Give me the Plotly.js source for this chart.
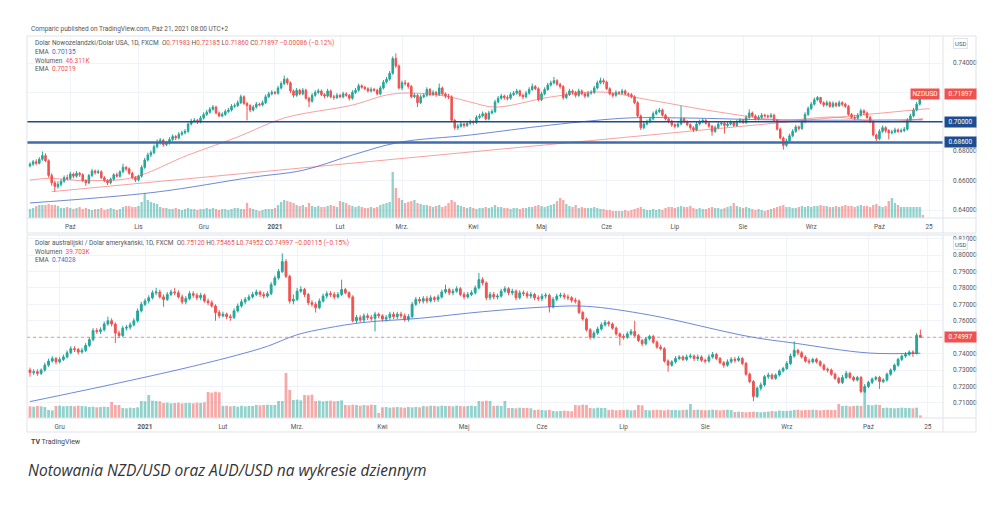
<!DOCTYPE html>
<html><head><meta charset="utf-8">
<script src="https://cdn.plot.ly/plotly-3.0.1.min.js"></script>
<style>html,body{margin:0;padding:0;background:#fff;}#chart{width:1005px;height:506px;}</style>
</head><body><div id="chart"></div>
<script>
// ---------------- DATA (prices in 1e-4 USD, volume in thousands) ----------------
const nzdStart = '2020-09-14';
const nzdTickDates = ['2020-10-01','2020-11-02','2020-12-01','2021-01-01','2021-02-01','2021-03-01','2021-04-01','2021-05-03','2021-06-01','2021-07-01','2021-08-02','2021-09-01','2021-10-01','2021-10-25'];
const nzdTickText = ['Paź','Lis','Gru','2021','Lut','Mrz.','Kwi','Maj','Cze','Lip','Sie','Wrz','Paź','25'];
const nzdOpen = [
6700,6712,6728,6718,6745,6770,6735,6635,6585,6560,
6575,6595,6620,6615,6645,6630,6650,6640,6600,6585,
6635,6665,6655,6660,6620,6600,6585,6610,6640,6630,
6660,6690,6680,6650,6620,6605,6630,6690,6740,6775,
6790,6830,6860,6875,6845,6855,6880,6900,6890,6915,
6925,6935,6985,7005,7010,7000,7025,7050,7065,7085,
7100,7060,7040,7050,7070,7080,7105,7110,7130,7170,
7125,7110,7080,7100,7120,7115,7130,7170,7190,7200,
7195,7230,7260,7290,7265,7210,7180,7215,7190,7215,
7160,7140,7180,7200,7210,7185,7175,7210,7170,7165,
7180,7170,7190,7180,7160,7200,7215,7245,7235,7225,
7210,7220,7215,7190,7230,7270,7290,7330,7430,7380,
7230,7265,7260,7240,7170,7180,7130,7170,7180,7220,
7185,7200,7185,7230,7190,7175,7170,7010,6960,6970,
6985,6975,6990,7000,6995,7030,7040,7055,7020,7060,
7070,7135,7160,7175,7165,7160,7185,7195,7210,7180,
7170,7195,7220,7240,7225,7150,7190,7220,7250,7265,
7280,7255,7240,7165,7185,7210,7200,7180,7210,7190,
7175,7195,7200,7230,7265,7280,7270,7225,7190,7180,
7200,7195,7210,7190,7185,7170,7130,7040,6960,6985,
7000,7020,7055,7070,7080,7045,7020,7005,6980,6970,
6985,7020,7000,6980,6960,6945,6985,7000,7010,6990,
6970,6935,6960,6985,6990,6975,6985,6995,6975,7000,
7010,6995,7030,7060,7040,7020,7030,7045,7040,7035,
7045,7010,6950,6890,6840,6870,6905,6935,6965,6955,
7000,7050,7090,7120,7150,7165,7130,7115,7130,7105,
7125,7110,7130,7120,7105,7050,7030,7025,7045,7075,
7060,7030,7000,6910,6885,6935,6960,6940,6925,6930,
6945,6935,6940,6950,7010,7040,7080,7120,7198.3];
const nzdHigh = [
6725,6740,6745,6760,6798,6785,6745,6650,6600,6595,
6610,6635,6640,6660,6655,6665,6660,6650,6610,6645,
6680,6675,6675,6670,6630,6610,6620,6650,6655,6670,
6715,6700,6690,6660,6630,6640,6705,6755,6790,6805,
6845,6880,6890,6885,6870,6895,6915,6910,6930,6940,
6950,6995,7020,7025,7020,7040,7065,7080,7100,7115,
7110,7070,7065,7085,7095,7120,7125,7145,7185,7180,
7135,7120,7115,7135,7130,7145,7185,7205,7215,7210,
7245,7275,7315,7300,7275,7220,7230,7225,7230,7225,
7170,7195,7215,7225,7220,7195,7225,7220,7185,7195,
7190,7205,7200,7190,7215,7230,7260,7255,7245,7235,
7235,7230,7225,7245,7285,7305,7345,7445,7465,7390,
7280,7285,7270,7250,7195,7190,7185,7195,7235,7230,
7215,7210,7260,7240,7200,7190,7180,7020,6985,7000,
6995,7005,7015,7010,7045,7055,7070,7065,7075,7085,
7150,7175,7190,7185,7180,7200,7210,7225,7220,7190,
7210,7235,7260,7250,7235,7205,7235,7265,7280,7305,
7290,7265,7250,7200,7225,7220,7210,7225,7220,7200,
7210,7215,7245,7280,7300,7295,7280,7235,7200,7215,
7210,7225,7220,7200,7195,7180,7140,7050,7000,7015,
7035,7070,7085,7095,7090,7055,7030,7015,6990,7000,
7110,7030,7010,6990,6970,7000,7015,7025,7020,7000,
6980,6975,7000,7005,7000,7000,7010,7005,7015,7025,
7020,7045,7085,7070,7050,7045,7060,7055,7050,7060,
7055,7020,6960,6900,6885,6920,6950,6980,6975,7015,
7065,7105,7135,7165,7175,7170,7140,7145,7140,7140,
7135,7145,7140,7130,7115,7060,7045,7060,7090,7085,
7070,7040,7010,6920,6950,6975,6970,6950,6945,6960,
6955,6955,6965,7025,7055,7095,7135,7210,7218.5];
const nzdLow = [
6690,6700,6705,6710,6735,6725,6620,6565,6525,6545,
6560,6585,6600,6605,6615,6620,6625,6590,6565,6575,
6625,6640,6645,6610,6590,6570,6575,6600,6620,6620,
6650,6665,6640,6610,6590,6595,6620,6680,6730,6760,
6780,6820,6845,6830,6835,6845,6870,6875,6880,6905,
6915,6925,6975,6995,6985,6990,7015,7040,7055,7075,
7050,7030,7030,7040,7060,7070,7095,7100,7120,7115,
7010,7065,7070,7090,7105,7105,7120,7160,7180,7185,
7185,7220,7250,7250,7195,7165,7170,7180,7180,7150,
7100,7130,7170,7190,7175,7160,7165,7160,7150,7155,
7160,7160,7170,7145,7150,7190,7205,7225,7215,7200,
7200,7205,7180,7180,7220,7260,7280,7320,7365,7220,
7215,7245,7225,7160,7160,7100,7120,7160,7170,7175,
7175,7170,7175,7180,7160,7155,7000,6945,6945,6960,
6960,6965,6980,6980,6985,7020,7030,7010,7010,7050,
7060,7125,7150,7150,7145,7150,7175,7185,7170,7155,
7160,7185,7210,7215,7140,7140,7180,7210,7240,7255,
7245,7225,7150,7155,7175,7185,7165,7170,7180,7160,
7165,7185,7190,7220,7255,7255,7215,7180,7165,7170,
7185,7185,7180,7170,7160,7120,7030,6945,6950,6975,
6990,7010,7045,7060,7035,7010,6990,6965,6955,6960,
6975,6990,6970,6945,6930,6935,6975,6990,6980,6960,
6905,6925,6950,6975,6920,6965,6975,6965,6965,6990,
6985,6985,7020,7030,7010,7010,7020,7030,7025,7025,
7000,6940,6880,6810,6830,6860,6895,6925,6940,6945,
6990,7040,7080,7110,7140,7120,7100,7105,7095,7095,
7100,7100,7105,7095,7040,7020,7010,7015,7035,7045,
7020,6990,6900,6870,6875,6925,6925,6880,6915,6920,
6925,6925,6930,6940,7000,7030,7070,7110,7186];
const nzdClose = [
6712,6728,6718,6745,6770,6735,6635,6585,6560,6575,
6595,6620,6615,6645,6630,6650,6640,6600,6585,6635,
6665,6655,6660,6620,6600,6585,6610,6640,6630,6660,
6690,6680,6650,6620,6605,6630,6690,6740,6775,6790,
6830,6860,6875,6845,6855,6880,6900,6890,6915,6925,
6935,6985,7005,7010,7000,7025,7050,7065,7085,7100,
7060,7040,7050,7070,7080,7105,7110,7130,7170,7125,
7110,7080,7100,7120,7115,7130,7170,7190,7200,7195,
7230,7260,7290,7265,7210,7180,7215,7190,7215,7160,
7140,7180,7200,7210,7185,7175,7210,7170,7165,7180,
7170,7190,7180,7160,7200,7215,7245,7235,7225,7210,
7220,7215,7190,7230,7270,7290,7330,7430,7380,7230,
7265,7260,7240,7170,7180,7130,7170,7180,7220,7185,
7200,7185,7230,7190,7175,7170,7010,6960,6970,6985,
6975,6990,7000,6995,7030,7040,7055,7020,7060,7070,
7135,7160,7175,7165,7160,7185,7195,7210,7180,7170,
7195,7220,7240,7225,7150,7190,7220,7250,7265,7280,
7255,7240,7165,7185,7210,7200,7180,7210,7190,7175,
7195,7200,7230,7265,7280,7270,7225,7190,7180,7200,
7195,7210,7190,7185,7170,7130,7040,6960,6985,7000,
7020,7055,7070,7080,7045,7020,7005,6980,6970,6985,
7020,7000,6980,6960,6945,6985,7000,7010,6990,6970,
6935,6960,6985,6990,6975,6985,6995,6975,7000,7010,
6995,7030,7060,7040,7020,7030,7045,7040,7035,7045,
7010,6950,6890,6840,6870,6905,6935,6965,6955,7000,
7050,7090,7120,7150,7165,7130,7115,7130,7105,7125,
7110,7130,7120,7105,7050,7030,7025,7045,7075,7060,
7030,7000,6910,6885,6935,6960,6940,6925,6930,6945,
6935,6940,6950,7010,7040,7080,7120,7198.3,7189.7];
const nzdVolume = [
135,150,180,195,195,195,210,195,195,180,
150,150,165,150,135,150,165,135,150,135,
120,135,135,150,120,135,150,135,120,135,
165,180,180,165,165,180,240,375,270,240,
225,210,165,150,150,135,135,150,135,120,
135,150,135,135,120,135,135,150,135,150,
135,120,135,135,120,135,150,150,135,135,
225,150,135,120,105,120,135,135,135,150,
195,240,270,255,240,225,195,180,195,165,
225,180,165,180,165,165,180,195,180,165,
255,240,225,195,180,165,180,165,150,150,
165,150,165,195,210,225,240,690,450,300,
270,225,240,255,270,225,210,195,195,180,
165,180,195,165,180,225,270,240,195,180,
165,150,165,150,135,150,150,165,150,165,
195,165,165,150,150,135,150,150,135,150,
150,165,165,180,195,180,165,180,195,210,
255,300,270,210,180,165,195,150,165,150,
150,150,165,150,135,135,120,120,105,105,
105,105,120,105,120,135,150,165,135,120,
120,135,120,135,120,150,165,165,150,165,
180,165,165,180,150,135,150,135,135,150,
165,150,150,135,150,165,180,225,180,165,
150,165,150,135,120,135,120,105,120,135,
150,165,180,195,165,165,150,150,165,180,
165,180,165,180,180,195,180,180,165,165,
180,165,180,195,180,180,165,180,195,180,
180,165,195,210,180,165,180,255,300,225,
195,165,165,165,165,165,165,165,46.311];
// EMA lines read at sample bars (bar number, price)
const nzdEmaSlowBar = [0,40,72,88,104,119,142,168,193,211,243,288];
const nzdEmaSlow    = [0.6448,0.6520,0.6624,0.6670,0.6774,0.6860,0.6910,0.6978,0.7026,0.7026,0.7012,0.70135];
const nzdEmaFastBar = [0,6,18,33,51,67,82,104,115,122,134,142,150,168,184,200,222,243,259,275,288];
const nzdEmaFast    = [0.6604,0.6615,0.6600,0.6620,0.6774,0.6897,0.7026,0.7114,0.7182,0.7196,0.7175,0.7135,0.7100,0.7169,0.7203,0.7148,0.7067,0.7012,0.7033,0.6999,0.70219];
const nzdTrendBar = [7,290];
const nzdTrend    = [0.6525,0.7090];
const nzdLevels   = [0.70000,0.68600];
const nzdSymbol   = 'NZDUSD';

const audStart = '2020-11-19';
const audTickDates = ['2020-12-01','2021-01-01','2021-02-01','2021-03-01','2021-04-01','2021-05-03','2021-06-01','2021-07-01','2021-08-02','2021-09-01','2021-10-01','2021-10-25'];
const audTickText = ['Gru','2021','Lut','Mrz.','Kwi','Maj','Cze','Lip','Sie','Wrz','Paź','25'];
const audOpen = [
7300,7285,7290,7280,7300,7330,7355,7370,7350,7365,
7380,7405,7430,7425,7410,7420,7450,7485,7540,7535,
7545,7580,7600,7580,7525,7510,7555,7560,7575,7600,
7660,7700,7720,7740,7770,7775,7745,7730,7760,7775,
7770,7745,7715,7735,7765,7755,7740,7755,7720,7710,
7690,7650,7630,7640,7625,7620,7660,7690,7715,7730,
7745,7760,7775,7760,7750,7765,7820,7860,7900,7960,
7870,7720,7730,7780,7790,7760,7710,7700,7680,7720,
7750,7765,7760,7745,7760,7790,7770,7745,7600,7620,
7605,7630,7620,7615,7640,7630,7610,7620,7640,7625,
7640,7630,7610,7625,7700,7730,7720,7735,7720,7740,
7730,7745,7775,7790,7770,7780,7795,7760,7745,7760,
7770,7800,7850,7830,7740,7760,7745,7750,7780,7795,
7770,7780,7740,7770,7765,7750,7760,7740,7735,7750,
7755,7685,7730,7750,7755,7745,7740,7725,7720,7650,
7610,7545,7500,7525,7550,7575,7590,7580,7555,7520,
7505,7500,7520,7535,7510,7480,7460,7490,7505,7470,
7440,7430,7355,7330,7350,7370,7380,7365,7380,7385,
7370,7380,7360,7355,7380,7395,7370,7345,7330,7350,
7365,7360,7370,7340,7275,7230,7140,7190,7210,7260,
7270,7250,7270,7295,7310,7340,7385,7420,7405,7380,
7355,7350,7365,7350,7330,7305,7300,7275,7250,7225,
7255,7280,7255,7240,7255,7170,7200,7225,7245,7255,
7230,7240,7275,7300,7330,7365,7385,7395,7410,7400,
7512.0];
const audHigh = [
7315,7305,7305,7310,7345,7370,7385,7380,7380,7395,
7420,7445,7445,7435,7435,7465,7500,7555,7555,7560,
7595,7625,7615,7590,7540,7570,7575,7590,7615,7675,
7715,7735,7755,7785,7800,7790,7760,7775,7790,7800,
7785,7760,7750,7780,7780,7770,7770,7765,7735,7725,
7700,7665,7655,7650,7640,7675,7705,7730,7745,7760,
7775,7790,7785,7775,7780,7835,7875,7915,8010,7975,
7880,7760,7800,7810,7800,7770,7725,7715,7735,7765,
7780,7780,7775,7775,7850,7800,7780,7755,7635,7635,
7645,7645,7635,7655,7650,7640,7635,7655,7655,7655,
7655,7645,7640,7715,7745,7745,7750,7750,7755,7750,
7760,7790,7820,7800,7795,7810,7805,7775,7775,7785,
7815,7890,7865,7840,7775,7775,7765,7795,7810,7805,
7795,7790,7785,7785,7780,7775,7770,7755,7765,7770,
7765,7745,7765,7770,7770,7760,7750,7740,7730,7660,
7620,7555,7540,7565,7590,7605,7600,7590,7565,7530,
7520,7535,7550,7600,7520,7490,7500,7515,7515,7480,
7455,7440,7365,7360,7385,7390,7390,7395,7400,7395,
7395,7390,7370,7395,7410,7405,7380,7355,7365,7380,
7380,7385,7380,7350,7285,7240,7200,7225,7270,7285,
7280,7280,7305,7320,7355,7400,7475,7430,7415,7390,
7370,7375,7375,7360,7340,7315,7310,7285,7260,7270,
7295,7290,7265,7265,7265,7215,7235,7255,7265,7265,
7250,7285,7310,7340,7375,7395,7410,7420,7420,7525,
7546.5];
const audLow = [
7260,7270,7265,7270,7290,7320,7345,7335,7340,7355,
7370,7395,7410,7395,7400,7410,7440,7475,7520,7520,
7535,7570,7565,7465,7495,7500,7540,7545,7565,7590,
7650,7690,7705,7730,7755,7735,7685,7720,7750,7755,
7735,7700,7700,7725,7740,7725,7725,7710,7695,7680,
7600,7615,7620,7610,7600,7610,7650,7680,7700,7720,
7735,7750,7745,7735,7740,7755,7810,7850,7890,7860,
7705,7700,7720,7770,7745,7695,7685,7650,7670,7710,
7735,7745,7730,7735,7750,7760,7735,7590,7585,7590,
7590,7605,7600,7535,7615,7595,7595,7605,7610,7610,
7615,7595,7595,7615,7690,7705,7705,7705,7710,7715,
7715,7735,7765,7755,7755,7770,7750,7730,7735,7750,
7760,7790,7815,7725,7725,7730,7730,7740,7770,7755,
7755,7725,7730,7750,7735,7735,7725,7720,7720,7735,
7650,7675,7720,7740,7730,7725,7710,7705,7640,7600,
7535,7485,7490,7515,7540,7565,7565,7545,7510,7450,
7485,7490,7510,7500,7470,7445,7450,7480,7460,7430,
7420,7345,7290,7320,7340,7360,7355,7355,7370,7355,
7355,7350,7340,7345,7370,7360,7335,7315,7320,7340,
7345,7350,7330,7265,7220,7110,7130,7175,7200,7245,
7240,7240,7260,7285,7300,7330,7375,7390,7370,7345,
7335,7340,7340,7320,7295,7285,7265,7240,7215,7215,
7245,7245,7230,7230,7160,7160,7190,7215,7235,7185,
7220,7230,7265,7290,7320,7355,7375,7385,7380,7395,
7495.2];
const audClose = [
7285,7290,7280,7300,7330,7355,7370,7350,7365,7380,
7405,7430,7425,7410,7420,7450,7485,7540,7535,7545,
7580,7600,7580,7525,7510,7555,7560,7575,7600,7660,
7700,7720,7740,7770,7775,7745,7730,7760,7775,7770,
7745,7715,7735,7765,7755,7740,7755,7720,7710,7690,
7650,7630,7640,7625,7620,7660,7690,7715,7730,7745,
7760,7775,7760,7750,7765,7820,7860,7900,7960,7870,
7720,7730,7780,7790,7760,7710,7700,7680,7720,7750,
7765,7760,7745,7760,7790,7770,7745,7600,7620,7605,
7630,7620,7615,7640,7630,7610,7620,7640,7625,7640,
7630,7610,7625,7700,7730,7720,7735,7720,7740,7730,
7745,7775,7790,7770,7780,7795,7760,7745,7760,7770,
7800,7850,7830,7740,7760,7745,7750,7780,7795,7770,
7780,7740,7770,7765,7750,7760,7740,7735,7750,7755,
7685,7730,7750,7755,7745,7740,7725,7720,7650,7610,
7545,7500,7525,7550,7575,7590,7580,7555,7520,7505,
7500,7520,7535,7510,7480,7460,7490,7505,7470,7440,
7430,7355,7330,7350,7370,7380,7365,7380,7385,7370,
7380,7360,7355,7380,7395,7370,7345,7330,7350,7365,
7360,7370,7340,7275,7230,7140,7190,7210,7260,7270,
7250,7270,7295,7310,7340,7385,7420,7405,7380,7355,
7350,7365,7350,7330,7305,7300,7275,7250,7225,7255,
7280,7255,7240,7255,7170,7200,7225,7245,7255,7230,
7240,7275,7300,7330,7365,7385,7395,7410,7400,7511.2,
7499.7];
const audVolume = [
175,170,180,175,165,120,115,180,185,175,
180,180,175,185,180,175,165,170,160,165,
170,165,240,195,195,150,145,155,150,160,
255,250,345,260,255,250,225,230,220,225,
230,220,225,225,220,230,225,235,390,380,
395,385,180,185,175,180,170,185,175,180,
180,195,190,195,200,195,195,255,255,675,
420,270,275,265,345,340,350,255,260,250,
255,260,250,255,265,195,190,200,195,185,
195,190,200,195,75,160,165,155,160,165,
160,155,165,160,165,160,180,175,185,180,
175,185,180,180,175,185,180,175,180,185,
180,255,250,260,255,180,185,180,255,150,
150,145,155,150,150,145,120,125,120,115,
120,105,100,105,110,105,100,195,190,200,
195,150,145,155,150,150,120,125,115,120,
120,125,115,120,195,190,120,115,120,125,
120,115,125,120,120,115,120,125,210,120,
125,120,115,120,125,120,115,120,125,120,
90,95,90,85,90,95,90,85,90,95,
105,100,110,105,105,110,120,125,115,120,
120,125,120,115,120,125,120,120,210,180,
185,175,180,185,180,405,195,190,200,195,
150,155,150,145,150,155,150,150,145,155,
39.703];
const audEmaBar = [0,24,42,56,64,72,80,90,105,122,140,150,167,194,206,226,240];
const audEma    = [0.7108,0.7222,0.7313,0.7392,0.7445,0.7515,0.7555,0.7590,0.7615,0.7655,0.7685,0.7688,0.7635,0.7503,0.7464,0.7404,0.74028];

// ---------------- RENDERING ----------------
const P = 1e-4;
const sc = a => a.map(v => v * P);
const UP = '#26a69a', DN = '#ef5350', UPV = 'rgba(38,166,154,0.5)', DNV = 'rgba(239,83,80,0.5)';
const BLUE = 'rgba(72,108,205,0.8)', RED_EMA = 'rgba(242,98,95,0.6)';

function weekdaysFrom(start, n) {
  const out = []; const d = new Date(start + 'T00:00:00Z');
  while (out.length < n) { const w = d.getUTCDay(); if (w !== 0 && w !== 6) out.push(d.toISOString().slice(0, 10)); d.setUTCDate(d.getUTCDate() + 1); }
  return out;
}
const nzdDates = weekdaysFrom(nzdStart, nzdClose.length + 8);
const audDates = weekdaysFrom(audStart, audClose.length + 8);
const nzdIdx = nzdClose.map((_, i) => i);
const audIdx = audClose.map((_, i) => i);
const fmtTick = t => /^\d{4}$/.test(t) ? '<b>' + t + '</b>' : t;

function candle(x, o, h, l, c, xa, ya) {
  return {type:'candlestick', x, open:sc(o), high:sc(h), low:sc(l), close:sc(c), xaxis:xa, yaxis:ya,
    increasing:{line:{color:UP, width:1}, fillcolor:UP}, decreasing:{line:{color:DN, width:1}, fillcolor:DN},
    whiskerwidth:0, hoverinfo:'skip', showlegend:false};
}
function vol(x, v, o, c, xa, ya) {
  return {type:'bar', x, y:v, marker:{color:c.map((cc, i) => cc >= o[i] ? UPV : DNV), line:{width:0}},
    xaxis:xa, yaxis:ya, hoverinfo:'skip', showlegend:false};
}
function line(x, y, color, w, xa, ya, shape) {
  return {type:'scatter', mode:'lines', x, y, line:{color, width:w, shape:shape || 'spline', smoothing:1},
    xaxis:xa, yaxis:ya, hoverinfo:'skip', showlegend:false};
}

const traces = [
  candle(nzdIdx, nzdOpen, nzdHigh, nzdLow, nzdClose, 'x', 'y'),
  line(nzdTrendBar, nzdTrend, RED_EMA, 1, 'x', 'y', 'linear'),
  line(nzdEmaSlowBar, nzdEmaSlow, BLUE, 1, 'x', 'y'),
  line(nzdEmaFastBar, nzdEmaFast, RED_EMA, 1, 'x', 'y'),
  vol(nzdIdx, nzdVolume, nzdOpen, nzdClose, 'x', 'y2'),
  candle(audIdx, audOpen, audHigh, audLow, audClose, 'x2', 'y3'),
  line(audEmaBar, audEma, BLUE, 1, 'x2', 'y3'),
  vol(audIdx, audVolume, audOpen, audClose, 'x2', 'y4')
];

// pixel helpers (plot area: x 27..943, y 36..418)
const L = 27, R = 943, T = 36, B = 418;
const px = x => (x - L) / (R - L);
const py = y => (B - y) / (B - T);

const GRID = '#f0f3fa', FR = '#e0e3eb', TXT = '#555';
const ann = [];
function txt(x, y, text, o) {
  ann.push(Object.assign({xref:'paper', yref:'paper', x:px(x), y:py(y), text, showarrow:false,
    xanchor:'left', yanchor:'middle', font:{size:6.5, color:TXT}}, o || {}));
}
const red = s => '<span style="color:' + DN + '">' + s + '</span>';
const blu = s => '<span style="color:#3f6ad8">' + s + '</span>';
function ohlcLine(name, o, h, l, c) {
  const n = o.length - 1, f = v => (v * P).toFixed(5);
  const ch = (c[n] - c[n - 1]) * P, pct = ch / (c[n - 1] * P) * 100;
  const sign = ch < 0 ? '−' : '+';
  return name + '  O' + red(f(o[n])) + ' H' + red(f(h[n])) + ' L' + red(f(l[n])) + ' C' + red(f(c[n])) +
    ' ' + red(sign + Math.abs(ch).toFixed(5) + ' (' + sign + Math.abs(pct).toFixed(2) + '%)');
}
txt(29, 29, 'Comparic published on TradingView.com, Paź 21, 2021 08:00 UTC+2');
txt(33, 43, ohlcLine('Dolar Nowozelandzki/Dolar USA, 1D, FXCM', nzdOpen, nzdHigh, nzdLow, nzdClose));
txt(33, 52, 'EMA  ' + blu(nzdEmaSlow[nzdEmaSlow.length - 1].toFixed(5)));
txt(33, 61, 'Wolumen  ' + red(nzdVolume[nzdVolume.length - 1].toFixed(3) + 'K'));
txt(33, 69, 'EMA  ' + red(nzdEmaFast[nzdEmaFast.length - 1].toFixed(5)));
txt(33, 243, ohlcLine('Dolar australijski / Dolar amerykański, 1D, FXCM', audOpen, audHigh, audLow, audClose));
txt(33, 252, 'Wolumen  ' + red(audVolume[audVolume.length - 1].toFixed(3) + 'K'));
txt(33, 260, 'EMA  ' + blu(audEma[audEma.length - 1].toFixed(5)));
txt(953, 43, 'USD', {bgcolor:'#fff', bordercolor:FR, borderwidth:1, borderpad:1, font:{size:6, color:TXT}});
txt(953, 244, 'USD', {bgcolor:'#fff', bordercolor:FR, borderwidth:1, borderpad:1, font:{size:6, color:TXT}});
txt(29, 442, '<b>TV</b> TradingView', {font:{size:7, color:'#444'}});
txt(26, 470, '<i>Notowania NZD/USD oraz AUD/USD na wykresie dziennym</i>', {font:{size:15.5, color:'#333', family:'Open Sans, sans-serif'}});

function tag(yref, yval, text, bg, x, anchor, w) {
  ann.push({xref:'paper', yref, x:px(x), y:yval, text, showarrow:false, xanchor:anchor, yanchor:'middle',
    bgcolor:bg, borderpad:1, width:w, align:'center', font:{size:6.5, color:'#fff'}});
}
const nzdLast = nzdClose[nzdClose.length - 1] * P, audLast = audClose[audClose.length - 1] * P;
tag('y', nzdLast, nzdSymbol, DN, 940, 'right', 26);
tag('y', nzdLast, nzdLast.toFixed(5), DN, 944, 'left', 29);
tag('y', nzdLevels[0], nzdLevels[0].toFixed(5), '#1e4d8f', 944, 'left', 29);
tag('y', nzdLevels[1], nzdLevels[1].toFixed(5), '#1e4d8f', 944, 'left', 29);
tag('y3', audLast, audLast.toFixed(5), DN, 944, 'left', 29);

const shapes = [
  {type:'line', xref:'paper', yref:'y', x0:0, x1:1, y0:nzdLevels[0], y1:nzdLevels[0], line:{color:'#1f4b8c', width:1.5}},
  {type:'line', xref:'paper', yref:'y', x0:0, x1:1, y0:nzdLevels[1], y1:nzdLevels[1], line:{color:'#3f6cae', width:2.5}},
  {type:'line', xref:'paper', yref:'y3', x0:0, x1:1, y0:audLast, y1:audLast, line:{color:'rgba(239,83,80,0.6)', width:1, dash:'dot'}},
  // pane frames
  {type:'rect', xref:'paper', yref:'paper', x0:px(27), x1:px(976), y0:py(233), y1:py(36), line:{color:FR, width:1}},
  {type:'line', xref:'paper', yref:'paper', x0:px(943), x1:px(943), y0:py(233), y1:py(36), line:{color:FR, width:1}},
  {type:'line', xref:'paper', yref:'paper', x0:px(27), x1:px(976), y0:py(218), y1:py(218), line:{color:FR, width:1}},
  {type:'rect', xref:'paper', yref:'paper', x0:px(27), x1:px(976), y0:py(432), y1:py(235), line:{color:FR, width:1}},
  {type:'line', xref:'paper', yref:'paper', x0:px(943), x1:px(943), y0:py(432), y1:py(235), line:{color:FR, width:1}},
  {type:'line', xref:'paper', yref:'paper', x0:px(27), x1:px(976), y0:py(418), y1:py(418), line:{color:FR, width:1}}
];

const xCommon = {showgrid:true, gridcolor:GRID, zeroline:false, showline:false, ticks:'', fixedrange:true,
  rangeslider:{visible:false}, tickfont:{size:6.5, color:TXT}, ticklabelstandoff:3, tickmode:'array'};
const yCommon = {side:'right', showgrid:true, gridcolor:GRID, zeroline:false, showline:false, ticks:'',
  tickfont:{size:6.5, color:TXT}, ticklabelstandoff:9, tickmode:'array', fixedrange:true};
const fmtP = v => v.toFixed(5);
const topTicks = [0.64, 0.66, 0.68, 0.70, 0.72, 0.74];
const botTicks = [0.71, 0.72, 0.73, 0.74, 0.75, 0.76, 0.77, 0.78, 0.79, 0.80, 0.81];

const layout = {
  width:1005, height:506, margin:{l:L, r:1005 - R, t:T, b:506 - B},
  paper_bgcolor:'#fff', plot_bgcolor:'#fff', showlegend:false, bargap:0.25,
  font:{family:'Roboto, "Open Sans", sans-serif', size:6.5, color:TXT},
  xaxis:Object.assign({}, xCommon, {domain:[0, 1], anchor:'y', range:[-0.97, 294.5],
    tickvals:nzdTickDates.map(d => nzdDates.indexOf(d)), ticktext:nzdTickText.map(fmtTick)}),
  yaxis:Object.assign({}, yCommon, {domain:[py(218), 1], anchor:'x', range:[0.63456, 0.75837],
    tickvals:topTicks, ticktext:topTicks.map(v => (v === 0.70 || v === 0.72) ? '' : fmtP(v))}),
  yaxis2:{overlaying:'y', anchor:'x', range:[0, 2730], visible:false, fixedrange:true},
  xaxis2:Object.assign({}, xCommon, {domain:[0, 1], anchor:'y3', range:[-0.81, 246.1],
    tickvals:audTickDates.map(d => audDates.indexOf(d)), ticktext:audTickText.map(fmtTick)}),
  yaxis3:Object.assign({}, yCommon, {domain:[0, py(235)], anchor:'x2', range:[0.70085, 0.81217],
    tickvals:botTicks, ticktext:botTicks.map(v => Math.abs(v - 0.75) < 1e-9 ? '' : fmtP(v))}),
  yaxis4:{overlaying:'y3', anchor:'x2', range:[0, 2745], visible:false, fixedrange:true},
  annotations:ann, shapes
};
Plotly.newPlot('chart', traces, layout, {displayModeBar:false, staticPlot:true});
</script></body></html>
